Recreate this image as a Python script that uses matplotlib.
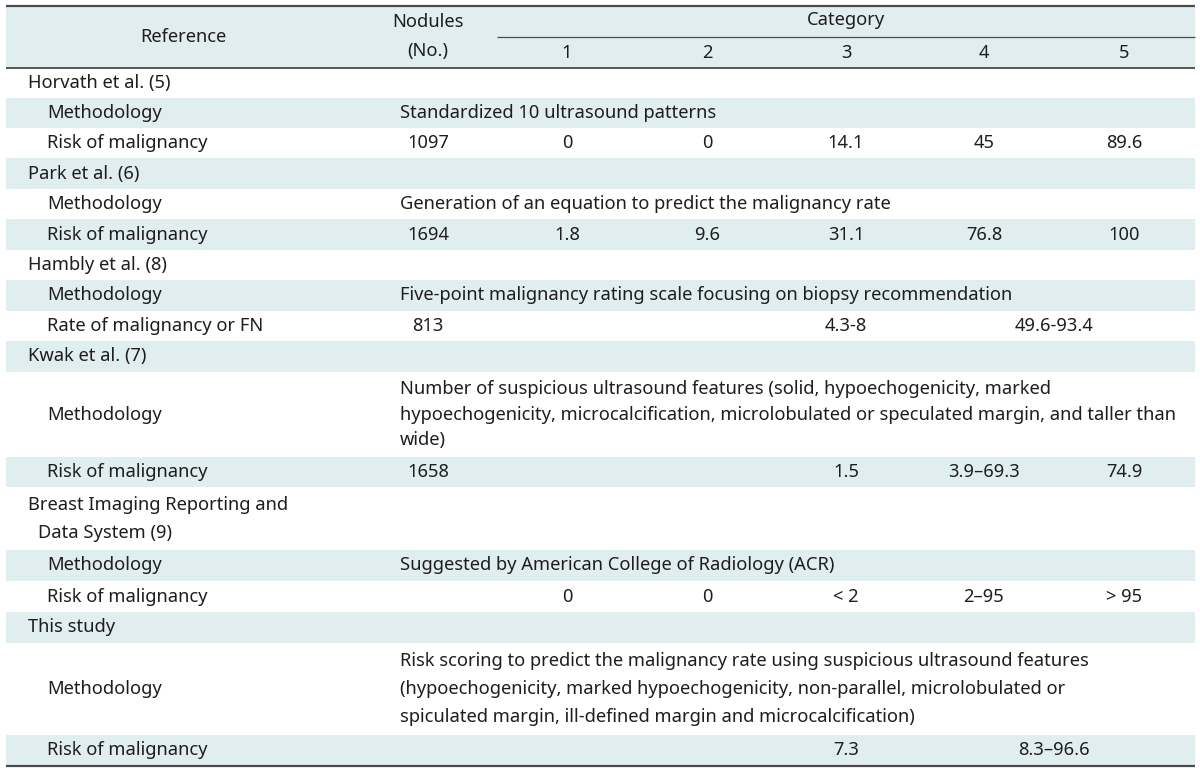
import matplotlib
matplotlib.use("Agg")
import matplotlib.pyplot as plt
from matplotlib.patches import Rectangle

# ---------------- data ----------------
header_reference = "Reference"
header_nodules = ["Nodules", "(No.)"]
header_category = "Category"
category_labels = ["1", "2", "3", "4", "5"]

studies = [
    ["Horvath et al. (5)"],
    ["Park et al. (6)"],
    ["Hambly et al. (8)"],
    ["Kwak et al. (7)"],
    ["Breast Imaging Reporting and", " Data System (9)"],
    ["This study"],
]
methodologies = [
    ["Standardized 10 ultrasound patterns"],
    ["Generation of an equation to predict the malignancy rate"],
    ["Five-point malignancy rating scale focusing on biopsy recommendation"],
    ["Number of suspicious ultrasound features (solid, hypoechogenicity, marked",
     "hypoechogenicity, microcalcification, microlobulated or speculated margin, and taller than",
     "wide)"],
    ["Suggested by American College of Radiology (ACR)"],
    ["Risk scoring to predict the malignancy rate using suspicious ultrasound features",
     "(hypoechogenicity, marked hypoechogenicity, non-parallel, microlobulated or",
     "spiculated margin, ill-defined margin and microcalcification)"],
]
risk_labels = ["Risk of malignancy", "Risk of malignancy", "Rate of malignancy or FN",
               "Risk of malignancy", "Risk of malignancy", "Risk of malignancy"]
nodules = ["1097", "1694", "813", "1658", "", ""]
cat1 = ["0", "1.8", "", "", "0", ""]
cat2 = ["0", "9.6", "", "", "0", ""]
cat3 = ["14.1", "31.1", "4.3-8", "1.5", "< 2", "7.3"]
cat4 = ["45", "76.8", "", "3.9\u201369.3", "2\u201395", ""]
cat5 = ["89.6", "100", "", "74.9", "> 95", ""]
cat4_5_span = ["", "", "49.6-93.4", "", "", "8.3\u201396.6"]

# ---------------- layout ----------------
W, H = 1200, 773
FONT = ["Noto Sans", "DejaVu Sans"]
TXT = "#1e1e1e"
BAND = "#e0eef0"
LINE = "#4a4a4a"

L, R = 6, 1195
x_sec, x_sub, x_nod_text = 28, 47, 400
x_nod = 428
x_cats = [567, 707, 846, 984, 1124]

header_top, header_bot = 6, 68
row_bounds = [68, 98, 128, 158, 189, 219, 250, 280, 311, 341, 372, 457, 487,
              550, 581, 612, 643, 735, 765]
line_gap = [28, 28, 28, 26, 28, 28.5]

fig = plt.figure(figsize=(W / 100, H / 100), dpi=100)
ax = fig.add_axes([0, 0, 1, 1])
ax.set_xlim(0, W)
ax.set_ylim(H, 0)
ax.axis("off")

# fit font size so the long methodology line spans ~688 px as in the reference
renderer = fig.canvas.get_renderer()
probe = ax.text(0, 0, methodologies[5][0], fontsize=12, family=FONT)
w12 = probe.get_window_extent(renderer).width
probe.remove()
FS = 12 * 688 / w12


def txt(x, y, s, ha="left"):
    ax.text(x, y, s, ha=ha, va="center", fontsize=FS, family=FONT, color=TXT)


# header
ax.add_patch(Rectangle((L, header_top), R - L, header_bot - header_top,
                       facecolor=BAND, edgecolor="none"))
ax.plot([L, R], [header_top, header_top], color=LINE, lw=1.6, solid_capstyle="butt")
ax.plot([L, R], [header_bot, header_bot], color=LINE, lw=1.3, solid_capstyle="butt")
ax.plot([497, R], [37, 37], color=LINE, lw=0.9, solid_capstyle="butt")
txt(183, 37, header_reference, ha="center")
txt(x_nod, 22, header_nodules[0], ha="center")
txt(x_nod, 51, header_nodules[1], ha="center")
txt(x_cats[2], 20, header_category, ha="center")
for xc, lab in zip(x_cats, category_labels):
    txt(xc, 53, lab, ha="center")

# body
row_idx = 0
for i in range(len(studies)):
    for k in range(3):
        y0, y1 = row_bounds[row_idx], row_bounds[row_idx + 1]
        if row_idx % 2 == 1:
            ax.add_patch(Rectangle((L, y0), R - L, y1 - y0,
                                   facecolor=BAND, edgecolor="none"))
        yc = (y0 + y1) / 2
        if k == 0:
            lines = studies[i]
            n = len(lines)
            for j, s in enumerate(lines):
                yy = yc + (j - (n - 1) / 2) * line_gap[i]
                txt(x_sec + (10 if j > 0 else 0), yy, s.strip())
        elif k == 1:
            txt(x_sub, yc, "Methodology")
            lines = methodologies[i]
            n = len(lines)
            for j, s in enumerate(lines):
                yy = yc + (j - (n - 1) / 2) * line_gap[i]
                txt(x_nod_text, yy, s)
        else:
            txt(x_sub, yc, risk_labels[i])
            txt(x_nod, yc, nodules[i], ha="center")
            for xc, col in zip(x_cats, [cat1, cat2, cat3, cat4, cat5]):
                if col[i]:
                    txt(xc, yc, col[i], ha="center")
            if cat4_5_span[i]:
                txt((x_cats[3] + x_cats[4]) / 2, yc, cat4_5_span[i], ha="center")
        row_idx += 1

ax.plot([L, R], [row_bounds[-1] + 1, row_bounds[-1] + 1], color=LINE, lw=1.6,
        solid_capstyle="butt")

fig.savefig("out.png", dpi=100, facecolor="white")
